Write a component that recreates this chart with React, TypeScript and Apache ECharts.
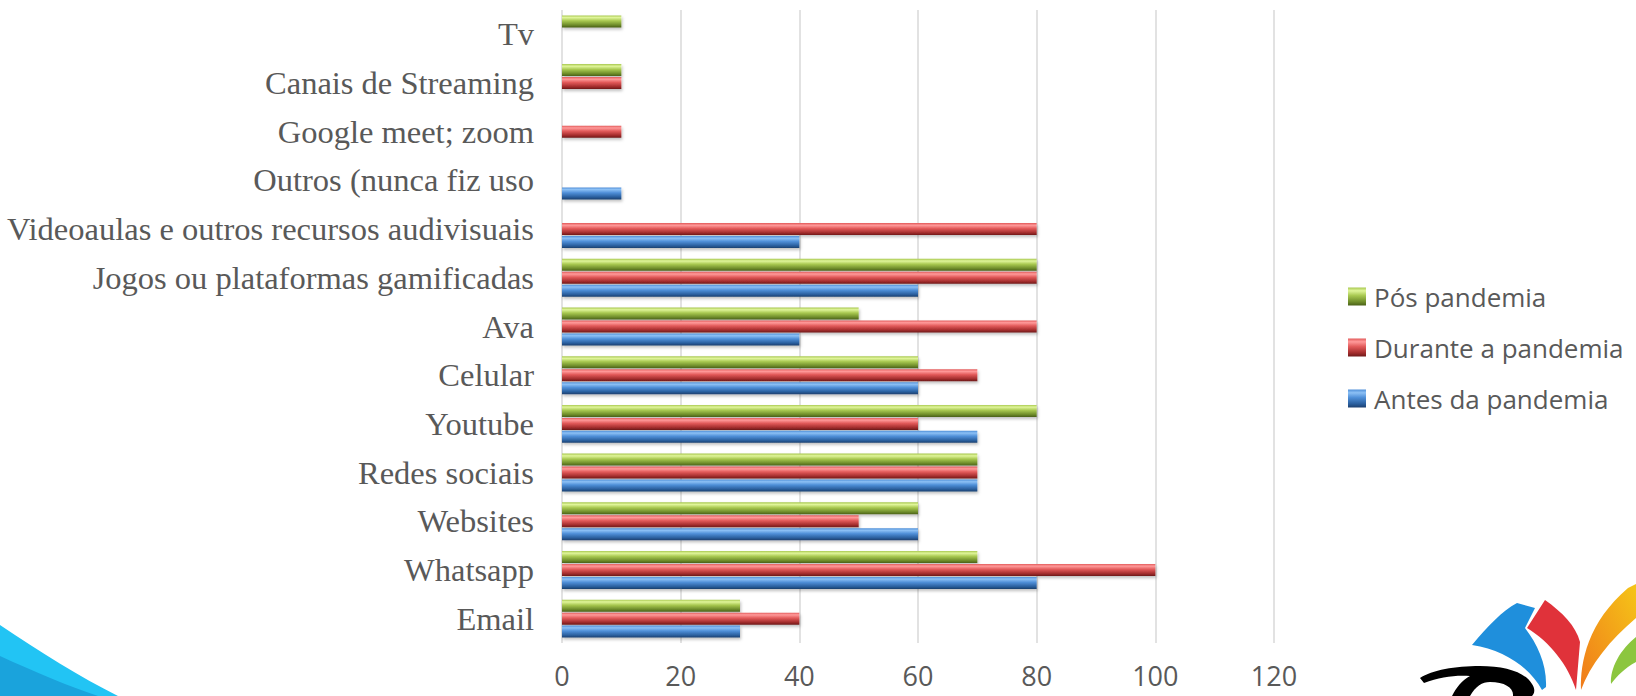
import React, { useEffect, useRef } from "react";
import * as echarts from "echarts";

const categories = [
  "Email",
  "Whatsapp",
  "Websites",
  "Redes sociais",
  "Youtube",
  "Celular",
  "Ava",
  "Jogos ou plataformas gamificadas",
  "Videoaulas e outros recursos audivisuais",
  "Outros (nunca fiz uso",
  "Google meet; zoom",
  "Canais de Streaming",
  "Tv",
];

const antes = [30, 80, 60, 70, 70, 60, 40, 60, 40, 10, 0, 0, 0];
const durante = [40, 100, 50, 70, 60, 70, 80, 80, 80, 0, 10, 10, 0];
const pos = [30, 70, 60, 70, 80, 60, 50, 80, 0, 0, 0, 10, 10];

const xTicks = [0, 20, 40, 60, 80, 100, 120];

const seriesNames = ["Pós pandemia", "Durante a pandemia", "Antes da pandemia"];

function grad(dark: string, light: string, mid: string, bottom: string) {
  return new echarts.graphic.LinearGradient(0, 0, 0, 1, [
    { offset: 0, color: mid },
    { offset: 0.18, color: light },
    { offset: 0.45, color: mid },
    { offset: 0.8, color: dark },
    { offset: 1, color: bottom },
  ]);
}

const swooshLight = "M0,625 C40,652 80,677 118,696 L0,696 Z";
const swooshDark = "M0,656 C35,672 68,686 98,696 L0,696 Z";
const petalBlue =
  "M1472,645 C1488,626 1502,611 1517,603 L1535,608 L1525,628 C1538,645 1547,665 1546,687 L1542,690 C1530,668 1505,650 1472,645 Z";
const petalRed =
  "M1527,628 L1545,600 C1562,612 1576,626 1580,642 L1576,690 C1568,665 1550,642 1527,628 Z";
const petalOrange =
  "M1581,690 C1580,662 1588,622 1628,588 L1636,584 L1636,618 C1610,640 1590,665 1581,690 Z";
const petalGreen =
  "M1611,684 C1610,668 1620,650 1636,637 L1636,662 C1625,668 1617,676 1611,684 Z";
const script =
  "M1420,678 C1432,670 1455,666 1480,666 C1505,666 1525,672 1532,684 C1536,690 1534,694 1532,696 L1513,696 C1514,688 1505,682 1490,682 C1482,682 1476,686 1470,696 L1452,696 C1456,688 1462,680 1470,676 C1455,675 1440,677 1424,683 Z";

echarts.graphic.registerShape("swooshLight", echarts.graphic.extendPath(swooshLight, {}));
echarts.graphic.registerShape("swooshDark", echarts.graphic.extendPath(swooshDark, {}));
echarts.graphic.registerShape("petalBlue", echarts.graphic.extendPath(petalBlue, {}));
echarts.graphic.registerShape("petalRed", echarts.graphic.extendPath(petalRed, {}));
echarts.graphic.registerShape("petalOrange", echarts.graphic.extendPath(petalOrange, {}));
echarts.graphic.registerShape("petalGreen", echarts.graphic.extendPath(petalGreen, {}));
echarts.graphic.registerShape("scriptLogo", echarts.graphic.extendPath(script, {}));

export default function App() {
  const ref = useRef<HTMLDivElement>(null);
  useEffect(() => {
    if (!ref.current) return;
    const chart = echarts.init(ref.current, undefined, { renderer: "svg" });
    const blue = grad("#2a5f9e", "#8cc0f5", "#4f8fd8", "#1c3f6e");
    const red = grad("#a32d2d", "#ff9a9a", "#e25a5a", "#6e1a1a");
    const green = grad("#6e8c2a", "#e0f59a", "#a8c850", "#4a6018");
    const colors = [green, red, blue];
    const datas = [pos, durante, antes];
    const option: any = {
      animation: false,
      backgroundColor: "#ffffff",
      grid: { left: 562, right: 362, top: 10, bottom: 53, containLabel: false },
      legend: {
        orient: "vertical",
        left: 1343,
        top: 278,
        itemGap: 24,
        itemWidth: 18,
        itemHeight: 18,
        icon: "rect",
        data: ["Pós pandemia", "Durante a pandemia", "Antes da pandemia"],
        textStyle: {
          fontSize: 26,
          lineHeight: 27,
          color: "#595959",
          fontFamily: "Open Sans",
          padding: [0, 0, 0, 3],
        },
      },
      xAxis: {
        type: "value",
        min: 0,
        max: 120,
        interval: 20,
        axisLine: { show: false },
        axisTick: { show: false },
        splitLine: { show: true, lineStyle: { color: "#d9d9d9", width: 1.5 } },
        axisLabel: {
          fontSize: 27,
          lineHeight: 27,
          color: "#595959",
          fontFamily: "Open Sans",
          margin: 19,
          formatter: (v: number) => (xTicks.includes(v) ? String(v) : ""),
        },
      },
      yAxis: {
        type: "category",
        data: categories,
        axisLine: { show: false },
        axisTick: { show: false },
        axisLabel: {
          fontSize: 32.5,
          color: "#595959",
          fontFamily: "Liberation Serif",
          margin: 28,
        },
      },
      series: seriesNames.map((name, i) => ({
        name,
        type: "bar",
        data: datas[i],
        barWidth: 12,
        barGap: "8%",
        itemStyle: {
          color: colors[i],
          shadowColor: "rgba(0,0,0,0.25)",
          shadowBlur: 3,
          shadowOffsetX: 1,
          shadowOffsetY: 2,
        },
      })),
      graphic: [
        { type: "swooshLight", x: 0, y: 0, style: { fill: "#22c4f4" }, silent: true },
        { type: "swooshDark", x: 0, y: 0, style: { fill: "#1aa3dc" }, silent: true },
        { type: "petalBlue", x: 0, y: 0, style: { fill: "#1f8fdc" }, silent: true },
        { type: "petalRed", x: 0, y: 0, style: { fill: "#e0323a" }, silent: true },
        {
          type: "petalOrange",
          x: 0,
          y: 0,
          style: {
            fill: new echarts.graphic.LinearGradient(0, 1, 1, 0, [
              { offset: 0, color: "#f07a1a" },
              { offset: 1, color: "#f5c518" },
            ]),
          },
          silent: true,
        },
        { type: "petalGreen", x: 0, y: 0, style: { fill: "#8cc63f" }, silent: true },
        { type: "scriptLogo", x: 0, y: 0, style: { fill: "#000000" }, silent: true },
      ],
    };
    chart.setOption(option);
    return () => chart.dispose();
  }, []);
  return (
    <div
      ref={ref}
      style={{ position: "fixed", left: 0, top: 0, width: 1636, height: 696 }}
    />
  );
}
